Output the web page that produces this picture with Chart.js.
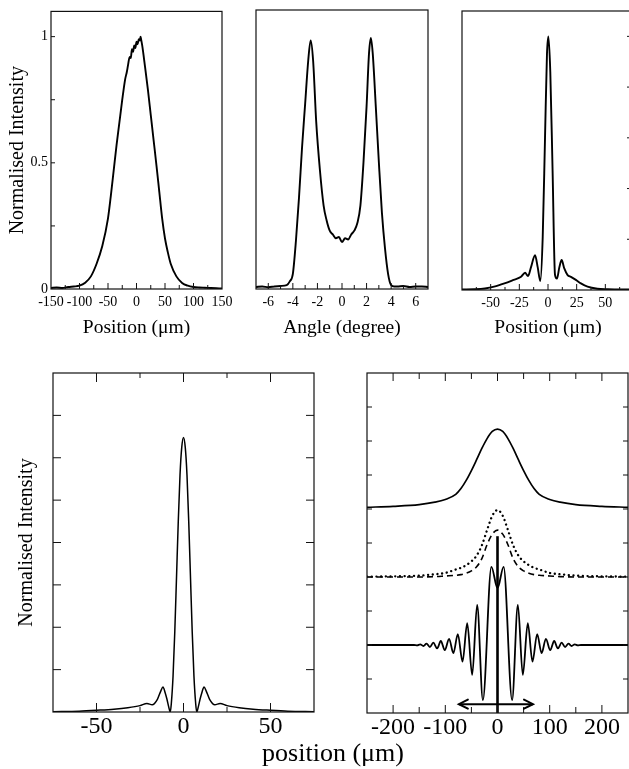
<!DOCTYPE html>
<html><head><meta charset="utf-8">
<script src="https://cdn.jsdelivr.net/npm/chart.js@4.4.1/dist/chart.umd.min.js"></script>
<style>
html,body{margin:0;padding:0;background:#fff;overflow:hidden;width:629px;height:769px;position:relative;}
canvas{position:absolute;}
#xt{position:absolute;left:183px;width:300px;top:738px;line-height:30px;text-align:center;font-family:'Liberation Serif','Times New Roman',serif;font-size:26px;color:#000;}
</style></head><body>
<canvas id="c1" width="245" height="345" style="left:0;top:0"></canvas>
<canvas id="c2" width="210" height="345" style="left:236px;top:0"></canvas>
<canvas id="c3" width="215" height="345" style="left:442px;top:0"></canvas>
<canvas id="c4" width="335" height="429" style="left:0;top:340px"></canvas>
<canvas id="c5" width="300" height="429" style="left:340px;top:340px"></canvas>
<div id="xt">position (μm)</div>
<script>
// ---------- data ----------
// Panel (a): near-field intensity profile
const posA = [-150,-140,-130,-120,-110,-100,-90,-80,-70,-60,-50,-45,-40,-35,-30,-25,-20,-17,-15,-12,-10,-8,-6,-4,-2,0,2,4,6,7,8,10,15,20,25,30,35,40,45,50,55,60,70,80,90,100,110,120,130,140,150];
const intA = [0.004,0.006,0.004,0.008,0.01,0.013,0.025,0.05,0.1,0.17,0.28,0.37,0.47,0.57,0.66,0.75,0.83,0.86,0.885,0.92,0.915,0.95,0.94,0.965,0.955,0.98,0.97,0.99,0.985,1.0,0.99,0.965,0.88,0.79,0.69,0.59,0.49,0.385,0.28,0.2,0.145,0.1,0.05,0.024,0.013,0.008,0.006,0.005,0.004,0.003,0.002];
// Panel (b): far-field angular profile
const angB = [-7,-6.5,-6,-5.5,-5,-4.5,-4.25,-4,-3.75,-3.5,-3.25,-3,-2.75,-2.55,-2.35,-2.1,-1.8,-1.5,-1.25,-1,-0.75,-0.5,-0.25,0,0.25,0.5,0.75,1,1.25,1.5,1.75,2,2.2,2.35,2.5,2.75,3,3.25,3.5,3.75,4,4.25,4.5,5,5.5,6,6.5,7];
const intB = [0.008,0.01,0.007,0.01,0.012,0.015,0.03,0.06,0.19,0.36,0.56,0.73,0.9,0.98,0.9,0.66,0.47,0.33,0.27,0.23,0.215,0.2,0.205,0.185,0.2,0.195,0.215,0.23,0.26,0.33,0.5,0.72,0.93,0.99,0.93,0.72,0.5,0.3,0.16,0.06,0.015,0.01,0.01,0.012,0.008,0.01,0.01,0.008];
// Panel (c): focused spot profile
const posC = [-75,-64,-55,-47,-38,-30,-23.5,-20,-17.4,-14.8,-11.3,-9,-6.7,-4.6,-2.6,-0.9,0.3,2,4,6.1,7.8,9.9,11.9,14.2,17.1,20,24.3,28.7,34.5,43,52,63,75];
const intC = [0.002,0.003,0.006,0.013,0.026,0.04,0.052,0.068,0.055,0.09,0.137,0.09,0.035,0.21,0.6,0.93,1.0,0.86,0.47,0.06,0.045,0.09,0.118,0.085,0.059,0.052,0.04,0.026,0.013,0.005,0.003,0.002,0.002];
// Panel (d): calculated spot profile
const posD = [-75,-60,-50,-40,-32,-25,-21,-18,-15,-13,-11.8,-10.5,-9.5,-8.5,-7.6,-7,-6,-5,-4,-3,-2,-1,0,1,2,3,4,5,6,7,7.6,8.5,9.5,10.5,11.8,13,15,18,21,25,32,40,50,60,75];
const intD = [0.005,0.02,0.04,0.065,0.1,0.15,0.2,0.17,0.3,0.5,0.59,0.45,0.3,0.12,0,0.2,0.85,1.9,3.2,4.5,5.6,6.25,6.48,6.25,5.6,4.5,3.2,1.9,0.85,0.2,0,0.12,0.3,0.45,0.59,0.5,0.3,0.17,0.2,0.15,0.1,0.065,0.04,0.02,0.005];
// Panel (e): stacked profiles
const posE = [-250,-200,-150,-120,-100,-80,-70,-60,-50,-40,-30,-20,-10,0,10,20,30,40,50,60,70,80,100,120,150,200,250];
const solidE = [6.05,6.08,6.13,6.2,6.28,6.43,6.6,6.84,7.13,7.45,7.78,8.07,8.28,8.35,8.28,8.07,7.78,7.45,7.13,6.84,6.6,6.43,6.28,6.2,6.13,6.08,6.05];
const dottedE = [4.01,4.02,4.04,4.08,4.12,4.22,4.27,4.35,4.46,4.63,4.93,5.38,5.8,5.97,5.8,5.38,4.93,4.63,4.46,4.35,4.27,4.22,4.12,4.08,4.04,4.02,4.01];
const dashedE = [4.0,4.0,4.0,4.01,4.03,4.05,4.07,4.11,4.18,4.3,4.54,4.95,5.26,5.38,5.26,4.95,4.54,4.3,4.18,4.11,4.07,4.05,4.03,4.01,4.0,4.0,4.0];
const posF = [-250,-160,-154,-148,-142,-136,-129.5,-123,-115.6,-108.6,-101,-92.7,-84.5,-76,-67,-58,-48.5,-39,-28,-11.7,0,11.7,28,39,48.5,58,67,76,84.5,92.7,101,108.6,115.6,123,129.5,136,142,148,154,160,250];
const oscF = [2.0,2.0,1.99,2.02,1.97,2.04,1.94,2.07,1.9,2.12,1.85,2.18,1.76,2.32,1.51,2.64,1.12,3.18,0.38,4.3,3.67,4.3,0.38,3.18,1.12,2.64,1.51,2.32,1.76,2.18,1.85,2.12,1.9,2.07,1.94,2.04,1.97,2.02,1.99,2.0,2.0];
const markerX = [0, 0], markerY = [0, 5.2];
const arrowX = [-74, 68], arrowY = [0.26, 0.26];
// tick labels
const ticksA = [-150,-100,-50,0,50,100,150];
const ticksB = [-6,-4,-2,0,2,4,6];
const ticksC = [-50,-25,0,25,50];
const ticksD = [-50,0,50];
const ticksE = [-200,-100,0,100,200];
const yTicksA = [0,0.5,1];

// ---------- helpers ----------
const FONT = "'Liberation Serif','Times New Roman',serif";
const pts = (xs, ys) => xs.map((x, i) => ({x, y: ys[i]}));

const framePlugin = {
  id: 'frame',
  afterDatasetsDraw(chart, args, o) {
    if (!o || !o.sides) return;
    const {ctx, chartArea: a, scales} = chart;
    ctx.save();
    ctx.strokeStyle = '#111';
    ctx.lineWidth = o.width || 1.2;
    ctx.strokeRect(a.left, a.top, a.right - a.left, a.bottom - a.top);
    ctx.lineWidth = o.tickWidth || 1;
    for (const side of Object.keys(o.sides)) {
      const s = o.sides[side];
      const horiz = side === 'top' || side === 'bottom';
      const sc = horiz ? scales.x : scales.y;
      const step = s.minor || s.major;
      const i0 = Math.ceil(sc.min / step - 1e-9), i1 = Math.floor(sc.max / step + 1e-9);
      for (let i = i0; i <= i1; i++) {
        const v = i * step;
        const isMajor = Math.abs(v / s.major - Math.round(v / s.major)) < 1e-6;
        const len = isMajor ? s.majorLen : s.minorLen;
        const p = sc.getPixelForValue(v);
        ctx.beginPath();
        if (horiz) {
          if (p <= a.left + 1 || p >= a.right - 1) continue;
          const y0 = side === 'bottom' ? a.bottom : a.top;
          const dir = side === 'bottom' ? -1 : 1;
          ctx.moveTo(p, y0); ctx.lineTo(p, y0 + dir * len);
        } else {
          if (p <= a.top + 1 || p >= a.bottom - 1) continue;
          const x0 = side === 'left' ? a.left : a.right;
          const dir = side === 'left' ? 1 : -1;
          ctx.moveTo(x0, p); ctx.lineTo(x0 + dir * len, p);
        }
        ctx.stroke();
      }
    }
    ctx.restore();
  }
};
Chart.register(framePlugin);

function xScale(min, max, tickVals, size, pad, title, titleSize, height) {
  return {
    type: 'linear', min, max,
    grid: {display: false, drawTicks: false}, border: {display: false},
    afterBuildTicks: s => { s.ticks = tickVals.map(v => ({value: v})); },
    ticks: {color: '#000', font: {family: FONT, size}, padding: pad, maxRotation: 0, autoSkip: false, callback: v => String(v)},
    title: title ? {display: true, text: title, color: '#000', font: {family: FONT, size: titleSize}, padding: {top: 0, bottom: 5}} : {display: false},
    afterFit: s => { s.height = height; }
  };
}
function baseOpts(pad, xs, ys, frame) {
  return {
    responsive: false, animation: false, events: [],
    layout: {padding: pad},
    plugins: {legend: {display: false}, tooltip: {enabled: false}, frame},
    elements: {point: {radius: 0}, line: {borderColor: '#000', fill: false, cubicInterpolationMode: 'monotone'}},
    scales: {x: xs, y: ys}
  };
}
const hidY = (min, max) => ({type: 'linear', min, max, display: false});

// ---------- panel 1 ----------
new Chart(document.getElementById('c1'), {
  type: 'line',
  data: {datasets: [{data: pts(posA, intA), borderWidth: 1.9, borderColor: '#000'}]},
  options: baseOpts({top: 9, right: 23, left: 0, bottom: 0},
    xScale(-150, 150, ticksA, 14, 5, 'Position (μm)', 19.5, 56),
    {type: 'linear', min: 0, max: 1.1,
     grid: {display: false, drawTicks: false}, border: {display: false},
     afterBuildTicks: s => { s.ticks = yTicksA.map(v => ({value: v})); },
     ticks: {color: '#000', font: {family: FONT, size: 14}, padding: 3, callback: v => String(v)},
     title: {display: true, text: 'Normalised Intensity', color: '#000', font: {family: FONT, size: 20}, padding: {top: 6, bottom: 0}},
     afterFit: s => { s.width = 51; }},
    {width: 1.2, sides: {bottom: {major: 50, minor: 25, majorLen: 6, minorLen: 4}, left: {major: 0.25, majorLen: 4}}})
});

// ---------- panel 2 ----------
new Chart(document.getElementById('c2'), {
  type: 'line',
  data: {datasets: [{data: pts(angB, intB), borderWidth: 1.9, borderColor: '#000'}]},
  options: baseOpts({top: 10, right: 18, left: 20, bottom: 0},
    xScale(-7, 7, ticksB, 14, 5, 'Angle (degree)', 19.5, 56),
    hidY(0, 1.1),
    {width: 1.2, sides: {bottom: {major: 2, minor: 1, majorLen: 6, minorLen: 4}}})
});

// ---------- panel 3 ----------
new Chart(document.getElementById('c3'), {
  type: 'line',
  data: {datasets: [{data: pts(posC, intC), borderWidth: 1.9, borderColor: '#000'}]},
  options: baseOpts({top: 11, right: 23, left: 20, bottom: 0},
    xScale(-75, 75, ticksC, 14, 5, 'Position (μm)', 19.5, 55),
    hidY(0, 1.1),
    {width: 1.2, sides: {bottom: {major: 25, minor: 12.5, majorLen: 6, minorLen: 3}, right: {major: 0.2, minor: 0.1, majorLen: 7, minorLen: 2}}})
});

// ---------- panel 4 ----------
new Chart(document.getElementById('c4'), {
  type: 'line',
  data: {datasets: [{data: pts(posD, intD), borderWidth: 1.5, borderColor: '#000'}]},
  options: baseOpts({top: 33, right: 21, left: 0, bottom: 0},
    xScale(-75, 75, ticksD, 24, 0, null, 0, 57),
    {type: 'linear', min: 0, max: 8,
     grid: {display: false, drawTicks: false}, border: {display: false},
     ticks: {display: false},
     title: {display: true, text: 'Normalised Intensity', color: '#000', font: {family: FONT, size: 20}, padding: {top: 15, bottom: 0}},
     afterFit: s => { s.width = 53; }},
    {width: 1.2, sides: {
      bottom: {major: 50, minor: 25, majorLen: 9, minorLen: 5},
      top: {major: 50, minor: 25, majorLen: 9, minorLen: 5},
      left: {major: 1, majorLen: 8}, right: {major: 1, majorLen: 8}}})
});

// ---------- panel 5 ----------
const arrowPlugin = {
  id: 'arrowHeads',
  afterDatasetsDraw(chart) {
    const meta = chart.getDatasetMeta(4);
    const pL = meta.data[0], pR = meta.data[meta.data.length - 1];
    const ctx = chart.ctx;
    ctx.save();
    ctx.strokeStyle = '#000'; ctx.lineWidth = 2; ctx.lineCap = 'round'; ctx.lineJoin = 'miter';
    const L = 9, H = 4.5;
    ctx.beginPath();
    ctx.moveTo(pL.x + L, pL.y - H); ctx.lineTo(pL.x, pL.y); ctx.lineTo(pL.x + L, pL.y + H);
    ctx.moveTo(pR.x - L, pR.y - H); ctx.lineTo(pR.x, pR.y); ctx.lineTo(pR.x - L, pR.y + H);
    ctx.stroke();
    ctx.restore();
  }
};
new Chart(document.getElementById('c5'), {
  type: 'line',
  data: {datasets: [
    {data: pts(posE, solidE), borderWidth: 1.7, borderColor: '#000'},
    {data: pts(posE, dottedE), borderWidth: 2.3, borderColor: '#000', borderDash: [0.1, 4.6], borderCapStyle: 'round'},
    {data: pts(posE, dashedE), borderWidth: 1.6, borderColor: '#000', borderDash: [6, 4]},
    {data: pts(posF, oscF), borderWidth: 1.8, borderColor: '#000'},
    {data: pts(arrowX, arrowY), borderWidth: 2, borderColor: '#000', cubicInterpolationMode: 'default', tension: 0},
    {data: pts(markerX, markerY), borderWidth: 2.6, borderColor: '#000', cubicInterpolationMode: 'default', tension: 0}
  ]},
  options: baseOpts({top: 33, right: 12, left: 27, bottom: 0},
    xScale(-250, 250, ticksE, 24, 0, null, 0, 56),
    hidY(0, 10),
    {width: 1.2, sides: {
      bottom: {major: 100, minor: 50, majorLen: 8, minorLen: 6},
      top: {major: 100, minor: 50, majorLen: 8, minorLen: 6},
      left: {major: 1, majorLen: 5}, right: {major: 1, majorLen: 5}}}),
  plugins: [arrowPlugin]
});
</script>
</body></html>
